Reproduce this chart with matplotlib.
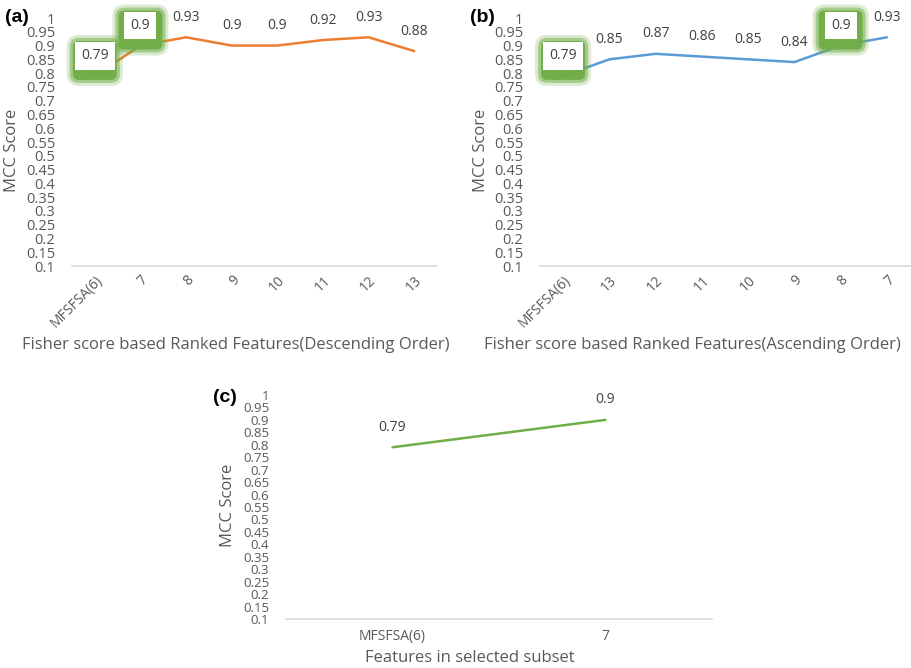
import matplotlib
matplotlib.use("Agg")
import matplotlib.pyplot as plt
import matplotlib.transforms as mtransforms
from matplotlib.patches import FancyBboxPatch
import numpy as np

plt.rcParams['font.family'] = ['Open Sans', 'DejaVu Sans']

# data
a_cats = ['MFSFSA(6)', '7', '8', '9', '10', '11', '12', '13']
a_vals = [0.79, 0.9, 0.93, 0.9, 0.9, 0.92, 0.93, 0.88]
a_marked = [0, 1]

b_cats = ['MFSFSA(6)', '13', '12', '11', '10', '9', '8', '7']
b_vals = [0.79, 0.85, 0.87, 0.86, 0.85, 0.84, 0.9, 0.93]
b_marked = [0, 6]

c_cats = ['MFSFSA(6)', '7']
c_vals = [0.79, 0.9]

y_ticks = [round(0.1 + 0.05 * i, 2) for i in range(19)]

W, H = 912, 668
GRAY = '#595959'
GREEN = '#70ad47'

fig = plt.figure(figsize=(W / 100, H / 100), dpi=100)


def box(x0, x1, ytop, ybot):
    # pixel box -> figure fraction rect
    return [x0 / W, 1 - ybot / H, (x1 - x0) / W, (ybot - ytop) / H]


def glow(ax, i, v):
    # green glow behind a highlighted label, in pixels around the point
    tr = mtransforms.ScaledTranslation(i, v, ax.transData)
    for grow, al in [(6, 0.25), (3, 0.5), (0, 0.95)]:
        p = FancyBboxPatch((-22 - grow, -4 - grow), 44 + 2 * grow, 39 + 2 * grow,
                           boxstyle='round,pad=0,rounding_size=%d' % (6 + grow),
                           fc=GREEN, ec='none', alpha=al, transform=tr,
                           clip_on=False, zorder=3)
        ax.add_patch(p)


def panel(rect, cats, vals, color, marked, rotate, xlabel, tag, tagpos, ylabpos, xlabpos, ysize):
    ax = fig.add_axes(rect)
    x = np.arange(len(cats))
    ax.plot(x, vals, color=color, lw=1.8, solid_capstyle='round', zorder=2)
    ax.set_xlim(-0.5, len(cats) - 0.5)
    ax.set_ylim(0.1, 1.0)
    ax.set_yticks(y_ticks)
    ax.set_yticklabels(['%g' % t for t in y_ticks], fontsize=ysize, color=GRAY)
    ax.tick_params(axis='y', length=0, pad=12)
    ax.set_xticks(x)
    if rotate:
        ax.set_xticklabels(cats, fontsize=10, color=GRAY, rotation=45,
                           ha='right', va='top', rotation_mode='anchor')
        ax.tick_params(axis='x', length=0, pad=5)
    else:
        ax.set_xticklabels(cats, fontsize=10, color=GRAY)
        ax.tick_params(axis='x', length=0, pad=7)
    for s in ['top', 'right', 'left']:
        ax.spines[s].set_visible(False)
    ax.spines['bottom'].set_color('#d9d9d9')
    ax.spines['bottom'].set_linewidth(1.2)

    for i, v in enumerate(vals):
        if i in marked:
            glow(ax, i, v)
            ax.annotate('%g' % v, (i, v), xytext=(0, 9), textcoords='offset points',
                        ha='center', va='bottom', fontsize=10, color='#404040', zorder=4,
                        bbox=dict(boxstyle='square,pad=0.45', fc='white', ec='none'))
        else:
            ax.annotate('%g' % v, (i, v), xytext=(0, 9), textcoords='offset points',
                        ha='center', va='bottom', fontsize=10, color='#404040')

    fig.text(tagpos[0] / W, 1 - tagpos[1] / H, tag, fontsize=14, fontweight='bold',
             family='Liberation Sans', ha='left', va='center')
    fig.text(ylabpos[0] / W, 1 - ylabpos[1] / H, 'MCC Score', fontsize=12, color=GRAY,
             rotation=90, ha='center', va='center')
    fig.text(xlabpos[0] / W, 1 - xlabpos[1] / H, xlabel, fontsize=12, color=GRAY,
             ha='center', va='center')
    return ax


panel(box(72, 437, 18, 266), a_cats, a_vals, '#ed7d31', a_marked, True,
      'Fisher score based Ranked Features(Descending Order)', '(a)', (5, 17), (12, 150), (236, 345), 10.5)
panel(box(540, 910, 18, 266), b_cats, b_vals, '#5b9bd5', b_marked, True,
      'Fisher score based Ranked Features(Ascending Order)', '(b)', (470, 17), (481, 150), (692, 345), 10.5)
panel(box(286, 712, 395, 619), c_cats, c_vals, GREEN, [], False,
      'Features in selected subset', '(c)', (213, 397), (228, 505), (470, 658), 9.5)

fig.savefig('out.png', dpi=100)
